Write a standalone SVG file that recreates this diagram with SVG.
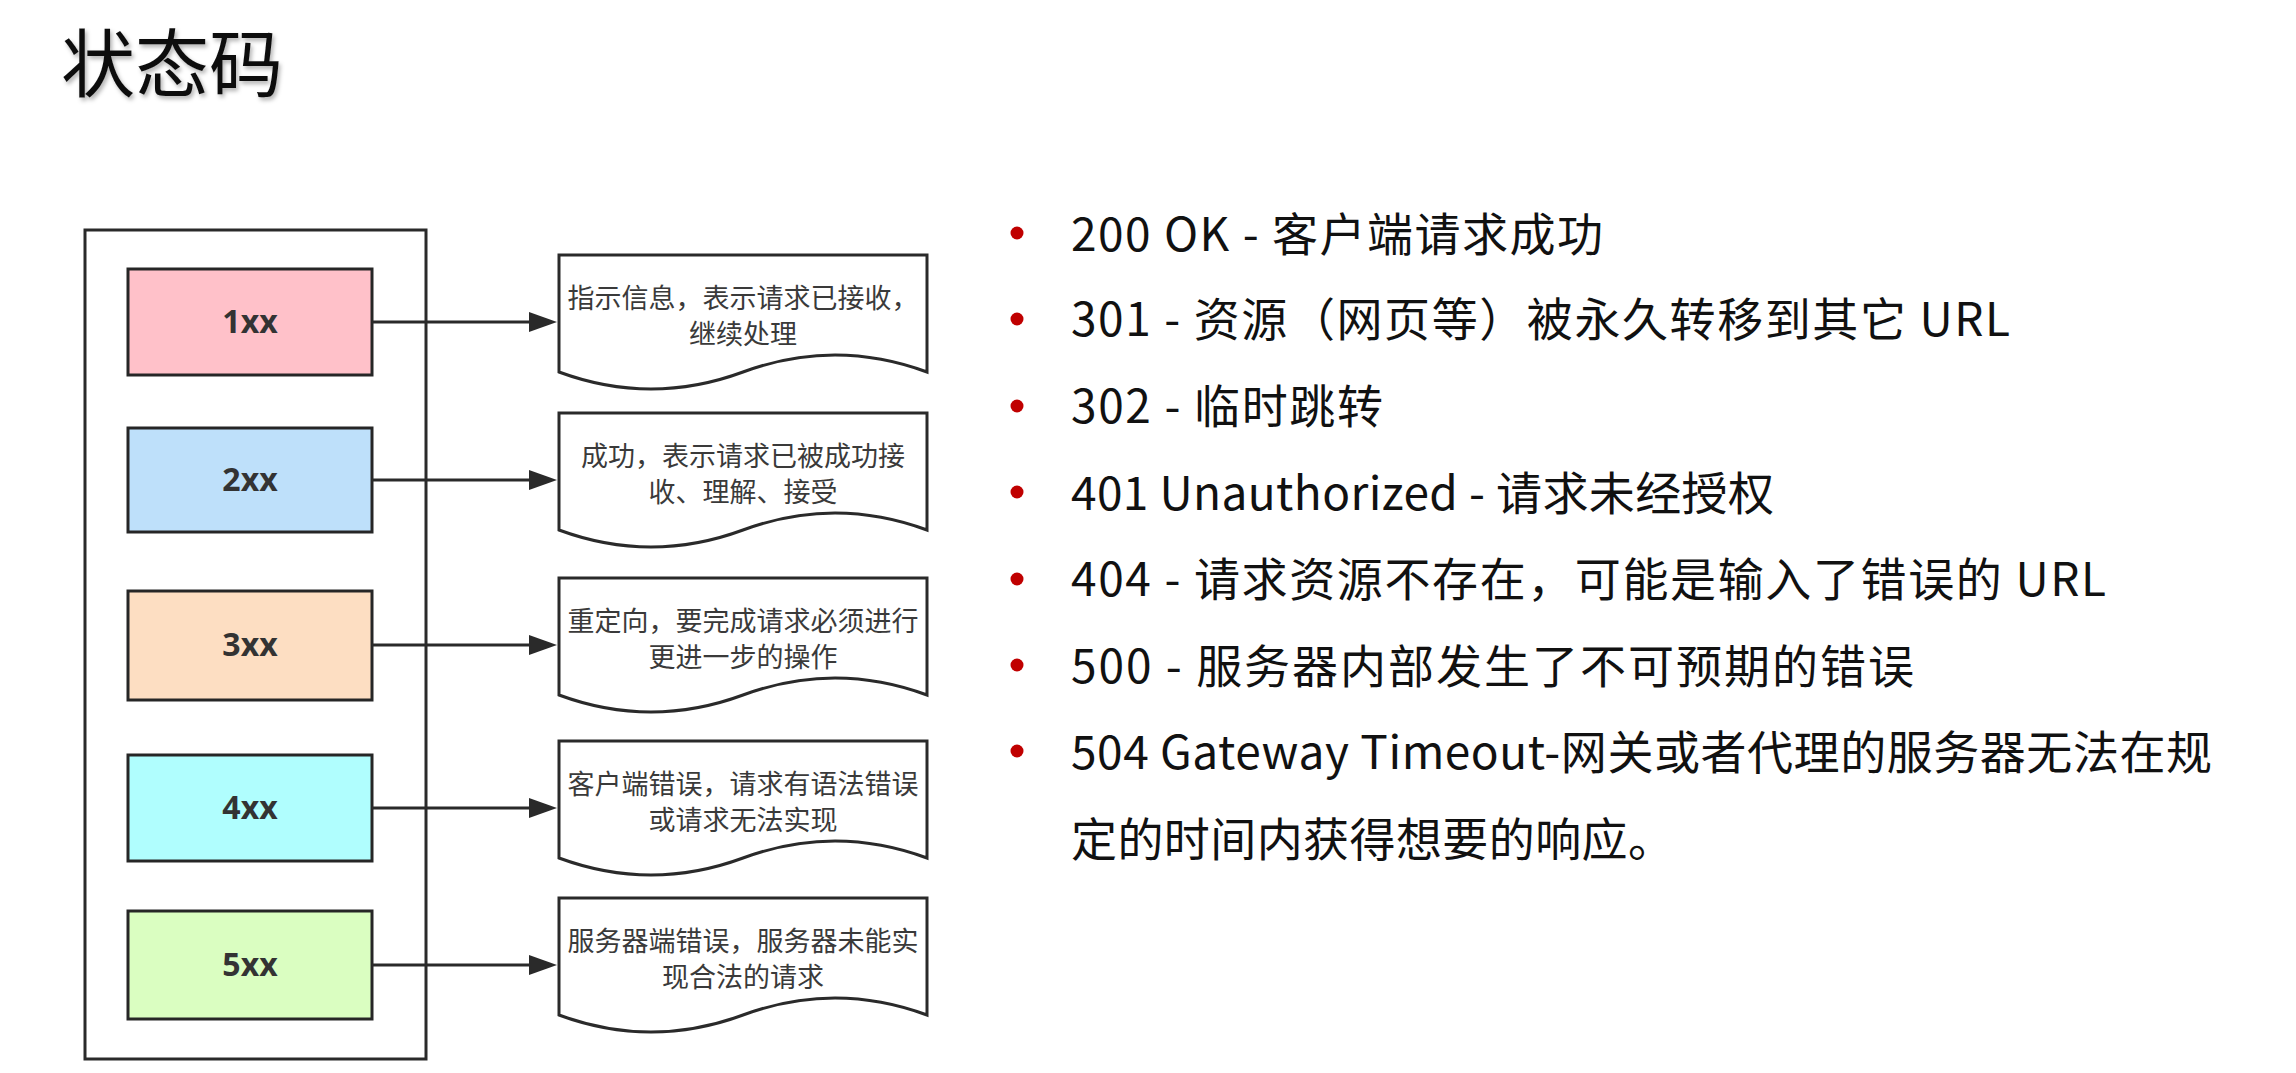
<svg xmlns="http://www.w3.org/2000/svg" width="2296" height="1073" viewBox="0 0 2296 1073">
<style>
.title{font-family:"Noto Sans CJK SC","Noto Sans",sans-serif;font-size:74px;fill:#111}
.box{stroke:#262626;stroke-width:3}
.lbl{font-family:"Open Sans","Liberation Sans",sans-serif;font-weight:bold;font-size:32px;fill:#333;text-anchor:middle}
.doc{fill:#fff;stroke:#2a2a2a;stroke-width:3}
.dt{font-family:"Noto Sans CJK SC",sans-serif;font-size:27px;fill:#3a3a3a;text-anchor:middle}
.conn{stroke:#2a2a2a;stroke-width:3;fill:none}
.bul{fill:#c00000}
.bt{font-family:"Noto Sans CJK SC","Noto Sans",sans-serif;font-size:46px;fill:#111}
</style>
<defs>
<marker id="arr" markerUnits="userSpaceOnUse" markerWidth="28" markerHeight="20" refX="0" refY="10" orient="auto" viewBox="0 0 28 20">
<path d="M0,0 L28,10 L0,20 Z" fill="#2a2a2a"/>
</marker>
<filter id="shadow" x="-10%" y="-10%" width="130%" height="140%">
<feDropShadow dx="2" dy="3" stdDeviation="2" flood-color="#000" flood-opacity="0.3"/>
</filter>
</defs>
<rect width="2296" height="1073" fill="#fff"/>
<g id="title"><text class="title" x="61" y="91" filter="url(#shadow)">状态码</text></g>

<g id="container"><rect x="85" y="230" width="341" height="829" fill="none" stroke="#2a2a2a" stroke-width="3"/></g>

<g id="node-1xx"><rect class="box" x="128" y="269" width="244" height="106" fill="#ffc1c9"/><text class="lbl" x="250" y="333">1xx</text></g>
<g id="node-2xx"><rect class="box" x="128" y="428" width="244" height="104" fill="#bee0fa"/><text class="lbl" x="250" y="491">2xx</text></g>
<g id="node-3xx"><rect class="box" x="128" y="591" width="244" height="109" fill="#fddec2"/><text class="lbl" x="250" y="656">3xx</text></g>
<g id="node-4xx"><rect class="box" x="128" y="755" width="244" height="106" fill="#b0fefe"/><text class="lbl" x="250" y="819">4xx</text></g>
<g id="node-5xx"><rect class="box" x="128" y="911" width="244" height="108" fill="#dafec1"/><text class="lbl" x="250" y="976">5xx</text></g>

<g id="doc-1">
<path class="doc" d="M559,255 H927 V372 Q835,338 743,372 Q651,406 559,372 Z"/>
<text class="dt" x="743" y="308">指示信息，表示请求已接收，</text>
<text class="dt" x="743" y="344">继续处理</text>
</g>
<g id="doc-2">
<path class="doc" d="M559,413 H927 V530 Q835,496 743,530 Q651,564 559,530 Z"/>
<text class="dt" x="743" y="466">成功，表示请求已被成功接</text>
<text class="dt" x="743" y="502">收、理解、接受</text>
</g>
<g id="doc-3">
<path class="doc" d="M559,578 H927 V695 Q835,661 743,695 Q651,729 559,695 Z"/>
<text class="dt" x="743" y="631">重定向，要完成请求必须进行</text>
<text class="dt" x="743" y="667">更进一步的操作</text>
</g>
<g id="doc-4">
<path class="doc" d="M559,741 H927 V858 Q835,824 743,858 Q651,892 559,858 Z"/>
<text class="dt" x="743" y="794">客户端错误，请求有语法错误</text>
<text class="dt" x="743" y="830">或请求无法实现</text>
</g>
<g id="doc-5">
<path class="doc" d="M559,898 H927 V1015 Q835,981 743,1015 Q651,1049 559,1015 Z"/>
<text class="dt" x="743" y="951">服务器端错误，服务器未能实</text>
<text class="dt" x="743" y="987">现合法的请求</text>
</g>

<g id="connectors">
<line class="conn" x1="372" y1="322" x2="529" y2="322" marker-end="url(#arr)"/>
<line class="conn" x1="372" y1="480" x2="529" y2="480" marker-end="url(#arr)"/>
<line class="conn" x1="372" y1="645" x2="529" y2="645" marker-end="url(#arr)"/>
<line class="conn" x1="372" y1="808" x2="529" y2="808" marker-end="url(#arr)"/>
<line class="conn" x1="372" y1="965" x2="529" y2="965" marker-end="url(#arr)"/>
</g>

<g id="status-list">
<circle class="bul" cx="1017" cy="233" r="6.5"/>
<text class="bt" x="1071" y="251" textLength="532" lengthAdjust="spacing">200 OK - 客户端请求成功</text>
<circle class="bul" cx="1017" cy="319" r="6.5"/>
<text class="bt" x="1071" y="336" textLength="939" lengthAdjust="spacing">301 - 资源（网页等）被永久转移到其它 URL</text>
<circle class="bul" cx="1017" cy="406" r="6.5"/>
<text class="bt" x="1071" y="423" textLength="312" lengthAdjust="spacing">302 - 临时跳转</text>
<circle class="bul" cx="1017" cy="492" r="6.5"/>
<text class="bt" x="1071" y="510" textLength="703" lengthAdjust="spacing">401 Unauthorized - 请求未经授权</text>
<circle class="bul" cx="1017" cy="579" r="6.5"/>
<text class="bt" x="1071" y="596" textLength="1035" lengthAdjust="spacing">404 - 请求资源不存在，可能是输入了错误的 URL</text>
<circle class="bul" cx="1017" cy="665" r="6.5"/>
<text class="bt" x="1071" y="683" textLength="843" lengthAdjust="spacing">500 - 服务器内部发生了不可预期的错误</text>
<circle class="bul" cx="1017" cy="751" r="6.5"/>
<text class="bt" x="1071" y="769" textLength="1141" lengthAdjust="spacing">504 Gateway Timeout-网关或者代理的服务器无法在规</text>
<text class="bt" x="1071" y="856" textLength="603" lengthAdjust="spacing">定的时间内获得想要的响应。</text>
</g>
</svg>
